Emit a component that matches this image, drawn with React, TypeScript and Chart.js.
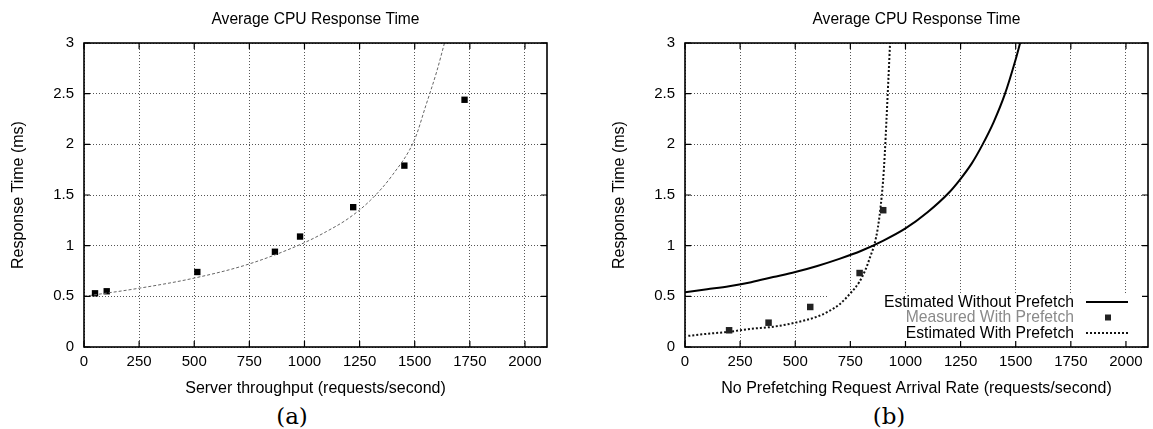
import React, { useEffect, useRef } from "react";
import { Chart, registerables } from "chart.js";

Chart.register(...registerables);

const FONT = "'Liberation Sans', Arial, Helvetica, sans-serif";

// ---- text ----
const chartTitle = "Average CPU Response Time";
const yAxisTitle = "Response Time (ms)";
const leftXAxisTitle = "Server throughput (requests/second)";
const rightXAxisTitle = "No Prefetching Request Arrival Rate (requests/second)";
const captionA = "(a)";
const captionB = "(b)";

// ---- axes ----
const xTicks = [0, 250, 500, 750, 1000, 1250, 1500, 1750, 2000];
const yTicks = [0, 0.5, 1, 1.5, 2, 2.5, 3];
const xMax = 2100;
const yMax = 3;

// ---- (a) Server throughput ----
const measuredAX = [50, 103, 514, 866, 980, 1221, 1453, 1726];
const measuredAY = [0.53, 0.55, 0.74, 0.94, 1.09, 1.38, 1.79, 2.44];
const fitAX = [0, 250, 500, 750, 1000, 1100, 1200, 1300, 1400, 1500, 1550, 1600, 1635];
const fitAY = [0.5, 0.58, 0.68, 0.82, 1.03, 1.14, 1.27, 1.45, 1.7, 2.05, 2.38, 2.72, 3.0];

// ---- (b) Prefetching ----
const noPrefetchLabel = "Estimated Without Prefetch";
const measuredBLabel = "Measured With Prefetch";
const prefetchLabel = "Estimated With Prefetch";
const noPrefetchX = [0, 100, 200, 300, 400, 500, 600, 700, 800, 900, 1000, 1100, 1200, 1250, 1300, 1350, 1400, 1450, 1500, 1520];
const noPrefetchY = [0.54, 0.57, 0.6, 0.64, 0.69, 0.74, 0.8, 0.87, 0.95, 1.05, 1.17, 1.33, 1.53, 1.66, 1.81, 2.0, 2.22, 2.49, 2.84, 3.0];
const measuredBX = [200, 379, 568, 792, 899];
const measuredBY = [0.165, 0.24, 0.395, 0.73, 1.35];
const prefetchX = [15, 100, 200, 300, 400, 500, 600, 650, 700, 750, 790, 820, 840, 860, 875, 887, 898, 906, 914, 922, 930];
const prefetchY = [0.11, 0.13, 0.15, 0.18, 0.2, 0.24, 0.3, 0.35, 0.42, 0.53, 0.64, 0.77, 0.89, 1.02, 1.18, 1.38, 1.63, 1.9, 2.25, 2.62, 3.0];

const pts = (xs: number[], ys: number[]) => xs.map((x, i) => ({ x, y: ys[i] }));

const framePlugin = {
  id: "gpFrame",
  afterDatasetsDraw(chart: any) {
    const { ctx, chartArea: a, scales } = chart;
    const x = scales.x;
    const y = scales.y;
    ctx.save();
    ctx.setLineDash([]);
    ctx.strokeStyle = "#000";
    ctx.lineWidth = 1.2;
    ctx.beginPath();
    for (const v of xTicks) {
      const px = x.getPixelForValue(v);
      ctx.moveTo(px, a.bottom);
      ctx.lineTo(px, a.bottom - 6);
      ctx.moveTo(px, a.top);
      ctx.lineTo(px, a.top + 6);
    }
    for (const v of yTicks) {
      const py = y.getPixelForValue(v);
      ctx.moveTo(a.left, py);
      ctx.lineTo(a.left + 6, py);
      ctx.moveTo(a.right, py);
      ctx.lineTo(a.right - 6, py);
    }
    ctx.stroke();
    ctx.lineWidth = 1.6;
    ctx.strokeRect(a.left, a.top, a.right - a.left, a.bottom - a.top);
    ctx.restore();
  },
};

const keyPlugin = {
  id: "gpKey",
  beforeDatasetsDraw(chart: any, _args: any, opts: any) {
    if (!opts || !opts.enabled) return;
    const { ctx, chartArea: a, scales } = chart;
    const left = scales.x.getPixelForValue(opts.maskFromX);
    const top = scales.y.getPixelForValue(opts.maskToY);
    ctx.save();
    ctx.fillStyle = "#fff";
    ctx.fillRect(left, top, a.right - left, a.bottom - top);
    ctx.restore();
  },
  afterDatasetsDraw(chart: any, _args: any, opts: any) {
    if (!opts || !opts.enabled) return;
    const { ctx, chartArea: a } = chart;
    const ds = chart.data.datasets;
    ctx.save();
    ctx.font = `15.7px ${FONT}`;
    ctx.textAlign = "right";
    ctx.textBaseline = "middle";
    opts.order.forEach((di: number, row: number) => {
      const d = ds[di];
      const cy = a.bottom - 45 + row * 15.5;
      ctx.fillStyle = opts.colors[row];
      ctx.fillText(d.label, a.right - 74, cy + 0.5);
      if (d.showLine) {
        ctx.strokeStyle = d.borderColor;
        ctx.lineWidth = d.borderWidth;
        ctx.setLineDash(d.borderDash || []);
        ctx.beginPath();
        ctx.moveTo(a.right - 62, cy);
        ctx.lineTo(a.right - 20, cy);
        ctx.stroke();
      } else {
        ctx.fillStyle = d.backgroundColor;
        ctx.fillRect(a.right - 43, cy - 3, 6, 6);
      }
    });
    ctx.restore();
  },
};

function makeScales(xTitle: string) {
  return {
    x: {
      type: "linear",
      min: 0,
      max: xMax,
      afterBuildTicks: (s: any) => {
        s.ticks = xTicks.map((v) => ({ value: v }));
      },
      afterFit: (s: any) => {
        s.height = 53;
      },
      ticks: {
        callback: (v: any) => String(v),
        color: "#000",
        font: { family: FONT, size: 15 },
        padding: 6,
        maxRotation: 0,
        autoSkip: false,
      },
      grid: { color: "#555", lineWidth: 1, drawTicks: false },
      border: { display: false, dash: [1, 2] },
      title: {
        display: true,
        text: xTitle,
        color: "#000",
        font: { family: FONT, size: 16 },
        padding: { top: 0, bottom: 2 },
      },
    },
    y: {
      type: "linear",
      min: 0,
      max: yMax,
      afterBuildTicks: (s: any) => {
        s.ticks = yTicks.map((v) => ({ value: v }));
      },
      afterFit: (s: any) => {
        s.width = 84;
      },
      ticks: {
        callback: (v: any) => String(v),
        color: "#000",
        font: { family: FONT, size: 15 },
        padding: 10,
        autoSkip: false,
      },
      grid: { color: "#555", lineWidth: 1, drawTicks: false },
      border: { display: false, dash: [1, 2] },
      title: {
        display: true,
        text: yAxisTitle,
        color: "#000",
        font: { family: FONT, size: 16 },
        padding: { top: 9, bottom: 0 },
      },
    },
    // empty right-hand box so the plot sits centred under the title
    yPad: {
      type: "linear",
      position: "right",
      display: true,
      min: 0,
      max: yMax,
      afterFit: (s: any) => {
        s.width = 84;
      },
      ticks: { display: false },
      grid: { display: false, drawTicks: false },
      border: { display: false },
      title: { display: false },
    },
  };
}

function baseOptions(xTitle: string, key: any) {
  return {
    responsive: false,
    animation: false,
    devicePixelRatio: 1,
    layout: { padding: 0 },
    scales: makeScales(xTitle),
    plugins: {
      legend: { display: false },
      tooltip: { enabled: false },
      title: {
        display: true,
        text: chartTitle,
        color: "#000",
        font: { family: FONT, size: 15.6, weight: "normal" },
        padding: { top: 10, bottom: 14.3 },
      },
      gpKey: key,
    },
  };
}

function configA(): any {
  return {
    type: "scatter",
    data: {
      datasets: [
        {
          label: "Fit",
          data: pts(fitAX, fitAY),
          showLine: true,
          borderColor: "#666",
          borderWidth: 1,
          borderDash: [3, 2],
          pointRadius: 0,
          cubicInterpolationMode: "monotone",
        },
        {
          label: "Measured",
          data: pts(measuredAX, measuredAY),
          showLine: false,
          pointStyle: "rect",
          pointRadius: 4.5,
          backgroundColor: "#000",
          borderColor: "#000",
          borderWidth: 0,
        },
      ],
    },
    options: baseOptions(leftXAxisTitle, { enabled: false }),
    plugins: [keyPlugin, framePlugin],
  };
}

function configB(): any {
  return {
    type: "scatter",
    data: {
      datasets: [
        {
          label: noPrefetchLabel,
          data: pts(noPrefetchX, noPrefetchY),
          showLine: true,
          borderColor: "#000",
          borderWidth: 2,
          borderDash: [],
          pointRadius: 0,
          cubicInterpolationMode: "monotone",
        },
        {
          label: measuredBLabel,
          data: pts(measuredBX, measuredBY),
          showLine: false,
          pointStyle: "rect",
          pointRadius: 4.6,
          backgroundColor: "#222",
          borderColor: "#222",
          borderWidth: 0,
        },
        {
          label: prefetchLabel,
          data: pts(prefetchX, prefetchY),
          showLine: true,
          borderColor: "#111",
          borderWidth: 2,
          borderDash: [2, 2],
          pointRadius: 0,
          cubicInterpolationMode: "monotone",
        },
      ],
    },
    options: baseOptions(rightXAxisTitle, {
      enabled: true,
      maskFromX: 650,
      maskToY: 0.52,
      order: [0, 1, 2],
      colors: ["#000", "#8a8a8a", "#000"],
    }),
    plugins: [keyPlugin, framePlugin],
  };
}

function ChartCanvas({ width, height, build }: { width: number; height: number; build: () => any }) {
  const ref = useRef<HTMLCanvasElement | null>(null);
  useEffect(() => {
    if (!ref.current) return;
    const chart = new Chart(ref.current, build());
    return () => chart.destroy();
  }, [build]);
  return <canvas ref={ref} width={width} height={height} style={{ width, height, display: "block" }} />;
}

const captionStyle: React.CSSProperties = {
  position: "absolute",
  top: 401,
  width: 200,
  textAlign: "center",
  fontFamily: "'DejaVu Serif', 'Liberation Serif', serif",
  fontSize: 23,
  lineHeight: "30px",
  color: "#000",
};

export default function App() {
  return (
    <div
      style={{
        position: "absolute",
        left: 0,
        top: 0,
        width: 1153,
        height: 429,
        background: "#fff",
        overflow: "hidden",
      }}
    >
      <div style={{ position: "absolute", left: 0, top: 0 }}>
        <ChartCanvas width={631} height={400} build={configA} />
      </div>
      <div style={{ position: "absolute", left: 601, top: 0 }}>
        <ChartCanvas width={631} height={400} build={configB} />
      </div>
      <div style={{ ...captionStyle, left: 292 - 100 }}>{captionA}</div>
      <div style={{ ...captionStyle, left: 889 - 100 }}>{captionB}</div>
    </div>
  );
}
